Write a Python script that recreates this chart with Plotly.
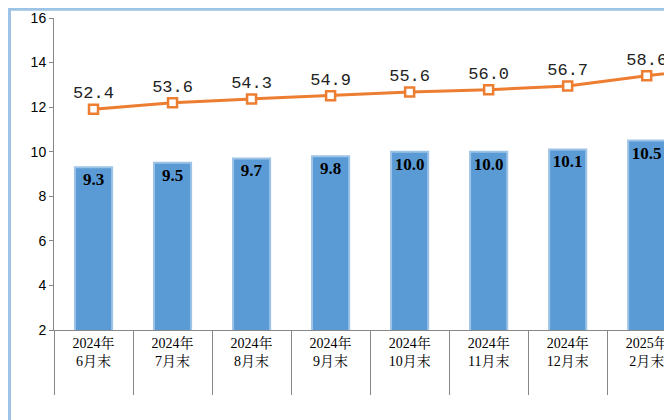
import plotly.graph_objects as go

categories = ["2024年<br>6月末","2024年<br>7月末","2024年<br>8月末","2024年<br>9月末","2024年<br>10月末","2024年<br>11月末","2024年<br>12月末","2025年<br>2月末","2025年<br>3月末"]
bar_values = [9.3, 9.5, 9.7, 9.8, 10.0, 10.0, 10.1, 10.5, None]
line_values = [52.4, 53.6, 54.3, 54.9, 55.6, 56.0, 56.7, 58.6, 60.3]
line_text = ["52.4","53.6","54.3","54.9","55.6","56.0","56.7","58.6",""]

serif = "Liberation Serif, Noto Serif CJK SC, Noto Sans CJK SC, serif"
fig = go.Figure()
fig.add_bar(x=categories, y=bar_values, width=0.47,
            marker=dict(color="#5b9bd5", line=dict(color="#9dc3e6", width=2)),
            text=[f"{v:.1f}" if v is not None else "" for v in bar_values],
            textposition="inside", insidetextanchor="end", textangle=0,
            textfont=dict(family=serif, size=17, color="#000000", weight="bold"),
            cliponaxis=False)
fig.add_scatter(x=categories, y=line_values, yaxis="y2", mode="lines+markers+text",
                line=dict(color="#ed7d31", width=3),
                marker=dict(symbol="square", size=9, color="white", line=dict(color="#ed7d31", width=2.5)),
                text=line_text, textposition="top center",
                textfont=dict(family="Liberation Mono, monospace", size=17, color="#222222"))
fig.update_layout(
    width=664, height=412, showlegend=False, plot_bgcolor="white", paper_bgcolor="white",
    margin=dict(l=46, r=0, t=10, b=90),
    xaxis=dict(range=[-0.5, 7.32], tickson="boundaries", ticks="outside", ticklen=64,
               tickcolor="#888888", showline=True, linecolor="#888888",
               tickfont=dict(family=serif, size=14, color="#000000")),
    yaxis=dict(range=[2, 16], dtick=2, showgrid=False, showline=True, linecolor="#888888",
               ticks="outside", ticklen=4, tickcolor="#888888",
               tickfont=dict(family="Liberation Sans, sans-serif", size=14, color="#000000")),
    yaxis2=dict(range=[11.5, 69.3], overlaying="y", side="right", visible=False),
    shapes=[dict(type="rect", xref="paper", yref="paper", x0=-0.072, x1=1.1, y0=-0.4, y1=1.028,
                 line=dict(color="#9dc3e6", width=3))],
)
fig.write_html("out.html")
